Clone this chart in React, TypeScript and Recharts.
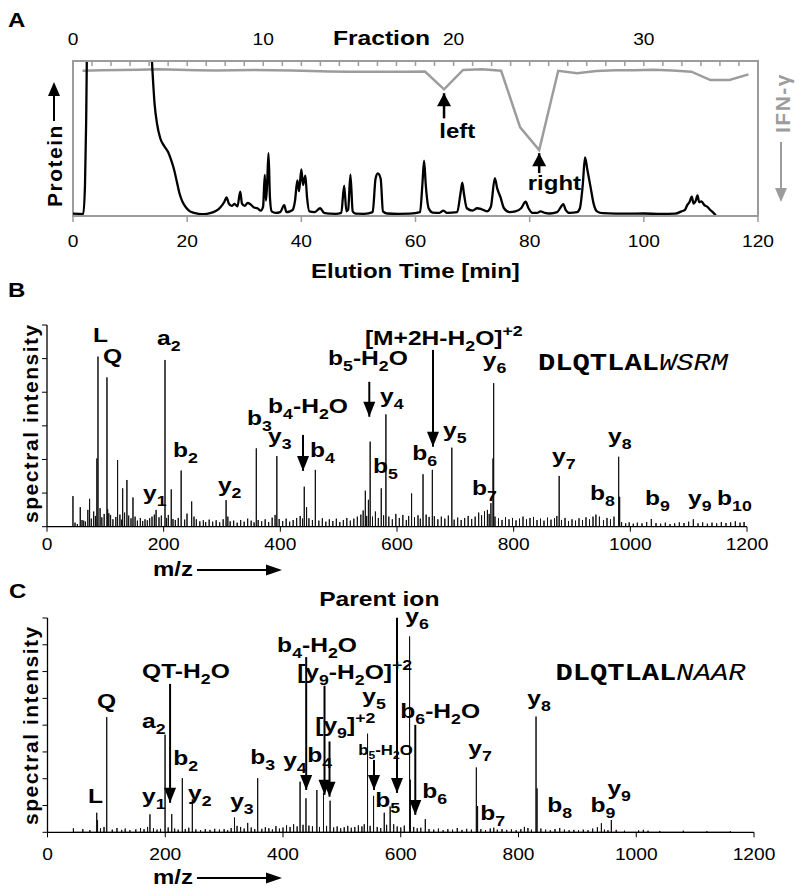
import React from "react";
import { ComposedChart, Line, XAxis, YAxis, ReferenceArea, ReferenceLine, ReferenceDot } from "recharts";

const SANS = "'Liberation Sans', Arial, sans-serif";
const MONO = "'Liberation Mono', 'Courier New', monospace";
const GRAY = "#9c9c9c";
const STRETCH = 1.2;

// ---------- panel A: elution profile ----------
const timeTicks = [0, 20, 40, 60, 80, 100, 120];
const fractionTicks = [0, 1, 2, 3, 4, 5, 6, 7, 8, 9, 10, 11, 12, 13, 14, 15, 16, 17, 18, 19, 20, 21, 22, 23, 24, 25, 26, 27, 28, 29, 30, 31, 32, 33, 34, 35, 36];
const fractionLabels = [0, 10, 20, 30];

// elution time [min], protein signal (100 = top of frame)
const proteinTrace: [number, number][] = [
  [0, 1.5], [1.8, 1.2], [2.1, 20], [2.3, 60], [2.5, 115], [13.6, 115], [13.9, 95], [14.3, 72], [14.7, 60],
  [15.3, 50], [16.0, 45], [16.7, 41], [17.2, 36], [17.7, 30], [18.2, 22], [18.7, 14], [19.2, 9], [19.8, 5.5],
  [20.5, 3], [21.2, 2], [22.0, 1.4], [23.0, 1.2], [24.0, 1.8], [25.0, 3.2], [25.8, 5.5], [26.5, 9], [26.9, 12],
  [27.3, 8], [27.8, 6.5], [28.3, 7.8], [28.8, 6.2], [29.3, 15.7], [29.6, 8], [30.1, 6.5], [30.6, 8.5], [31.1, 7.5],
  [31.7, 5.5], [32.3, 5], [32.9, 3.5], [33.3, 6], [33.6, 26.5], [33.8, 10], [34.0, 20], [34.25, 40.5], [34.5, 12],
  [34.8, 3], [35.5, 2], [36.3, 2.5], [37.0, 7], [37.4, 2.5], [38.0, 3], [38.5, 4], [38.9, 10], [39.3, 23],
  [39.6, 16], [40.0, 30], [40.3, 20], [40.7, 26], [41.0, 12], [41.4, 3], [42.3, 2.5], [43.3, 5], [44.0, 2],
  [45, 1.5], [46, 1.4], [47.0, 2], [47.5, 19.6], [47.9, 3], [48.2, 4], [48.6, 26.7], [49.0, 3], [49.5, 1.5],
  [51, 1.4], [52.5, 2.5], [53.0, 24], [53.4, 27.5], [53.9, 24], [54.3, 3], [55, 1.6], [57, 1.4], [59, 1.5],
  [60.8, 2.5], [61.2, 20], [61.5, 35.7], [61.8, 20], [62.3, 5], [63, 2.2], [64.2, 2], [64.9, 3.5], [65.5, 2],
  [67.3, 2.5], [67.9, 15], [68.2, 21.5], [68.5, 14], [69.0, 5], [70, 3.5], [70.8, 5], [71.5, 4.5], [72.5, 3],
  [73.2, 6], [73.9, 24.5], [74.3, 18], [74.9, 12], [75.5, 5], [76.5, 2.5], [77.5, 3], [78.5, 5], [79.3, 9.2],
  [79.8, 5], [80.5, 2], [81.3, 2], [81.9, 3], [82.7, 2], [83.5, 1.6], [84.8, 2.5], [85.5, 6], [85.9, 7.7],
  [86.3, 4], [87, 2], [88.3, 2.5], [88.8, 5], [89.3, 20], [89.7, 37.8], [90.1, 30], [90.7, 18], [91.2, 8],
  [91.8, 3], [92.8, 1.8], [95, 1.5], [100, 1.6], [103, 1.3], [105.5, 1.5], [106.6, 3], [107.2, 4], [107.6, 7],
  [108.0, 9], [108.4, 12.5], [108.7, 8], [109.1, 10], [109.4, 13.3], [109.7, 9], [110.1, 9.5], [110.6, 7],
  [111.1, 6], [111.6, 4], [112.2, 2], [112.6, 0.5],
];

// IFN-gamma per fraction (axis points downward)
const ifnFraction = [0.5, 1.5, 2.5, 3.5, 4.5, 5.5, 6.5, 7.5, 8.5, 9.5, 10.5, 11.5, 12.5, 13.5, 14.5, 15.5, 16.5, 17.5, 18.5, 19.5, 20.5, 21.5, 22.5, 23.5, 24.5, 25.5, 26.5, 27.5, 28.5, 29.5, 30.5, 31.5, 32.5, 33.5, 34.5, 35.5];
const ifnLevel = [6.3, 6.0, 5.8, 5.6, 5.4, 5.6, 5.9, 6.2, 6.0, 5.8, 6.0, 6.2, 6.4, 6.7, 6.9, 7.0, 7.0, 6.9, 6.8, 18.3, 5.8, 5.3, 6.3, 42.8, 57.4, 6.3, 7.9, 6.5, 6.0, 5.9, 5.6, 6.1, 6.9, 12.3, 12.3, 8.6];

const poolLabels = [
  { text: "left", fraction: 20.2, level: 49.7 },
  { text: "right", fraction: 25.3, level: 83.2 },
];
const poolArrows = [
  { fraction: 19.5, from: 37, to: 20.8 },
  { fraction: 24.5, from: 72.3, to: 59.5 },
];

// ---------- panel B / C: MS/MS spectra ----------
const mzTicks = [0, 200, 400, 600, 800, 1000, 1200];
const intensityTicksB = [0, 10, 20, 30, 40, 50, 60];
const intensityTicksC = [0, 10, 20, 30, 40, 50, 60, 70, 80];

const peaksB: [number, number][] = [
  [44.5, 9.1], [57, 5.8], [63, 1.8], [70, 5.0], [73, 8.3], [85.5, 20.3], [87.4, 50.6], [102.8, 44.4], [104, 5.2],
  [121, 19.8], [129.7, 11.4], [137, 13.9], [147.4, 8.7], [187, 5.0], [202.3, 49.6], [213, 11.1], [230, 16.7],
  [248, 7.5], [307, 7.9], [358.8, 23.3], [394, 21.0], [441, 11.9], [460, 16.9], [545.7, 10.7], [554, 25.3],
  [573, 11.4], [581, 33.4], [625, 9.9], [644.6, 15.6], [660.6, 16.9], [694, 23.5], [761, 7.0], [764.6, 20.3],
  [765.7, 42.7], [878, 15.1], [980, 20.8], [981.7, 8.9],
];
const noiseB: [number, number][] = [
  [48, 1.2], [52, 0.8], [60, 2.0], [66, 1.5], [76, 2.4], [80, 4.5], [83, 3.2], [91, 5.5], [94, 2.8], [98, 3.8],
  [106, 4.0], [109, 3.5], [113, 2.2], [118, 2.9], [125, 3.6], [128, 2.1], [133, 4.2], [140, 3.3], [144, 2.5],
  [151, 3.0], [155, 1.8], [160, 2.6], [164, 1.7], [168, 2.2], [172, 1.9], [176, 2.5], [180, 3.0], [184, 3.6],
  [192, 2.8], [196, 3.3], [205, 2.6], [208, 3.5], [216, 2.3], [220, 2.0], [225, 2.6], [236, 2.1], [240, 3.9],
  [252, 3.0], [256, 2.2], [262, 1.6], [268, 1.9], [272, 1.4], [278, 2.1], [284, 1.5], [290, 1.9], [296, 1.3],
  [302, 2.2], [310, 3.0], [314, 1.6], [320, 1.8], [326, 1.2], [332, 2.0], [338, 1.5], [344, 2.4], [350, 1.8],
  [355, 1.3], [362, 2.0], [368, 1.6], [374, 2.2], [380, 1.4], [386, 2.7], [391, 3.5], [398, 2.3], [404, 1.7],
  [410, 2.4], [416, 1.5], [422, 2.0], [428, 2.6], [434, 3.2], [438, 2.4], [445, 5.8], [449, 2.5], [455, 2.0],
  [466, 1.8], [472, 2.5], [478, 1.5], [484, 2.2], [490, 1.7], [496, 2.4], [502, 1.4], [508, 2.0], [514, 2.6],
  [520, 1.8], [526, 2.4], [532, 3.0], [538, 3.6], [542, 4.8], [548, 3.2], [551, 8.0], [558, 3.0], [563, 4.5],
  [568, 2.6], [577, 3.4], [586, 3.0], [592, 2.2], [598, 3.8], [604, 2.6], [610, 3.5], [616, 2.0], [620, 3.2],
  [630, 2.8], [636, 3.4], [640, 2.4], [650, 3.6], [655, 2.9], [664, 3.1], [670, 2.2], [676, 3.0], [682, 2.4],
  [688, 3.3], [698, 2.1], [704, 2.7], [710, 2.0], [716, 2.6], [722, 3.2], [728, 2.3], [734, 3.0], [740, 4.2],
  [745, 3.4], [750, 4.6], [755, 5.0], [758, 3.8], [768, 3.0], [774, 2.5], [780, 2.0], [786, 2.8], [792, 2.2],
  [798, 2.6], [804, 1.9], [810, 2.4], [816, 3.0], [822, 2.2], [828, 2.6], [834, 2.9], [840, 2.0], [846, 2.4],
  [852, 1.8], [858, 2.7], [864, 2.1], [870, 2.5], [874, 3.2], [882, 2.0], [888, 2.6], [894, 1.7], [900, 2.2],
  [906, 1.8], [912, 2.5], [918, 2.0], [924, 2.8], [930, 2.2], [936, 3.0], [941, 3.6], [947, 3.0], [954, 2.0],
  [960, 2.6], [966, 2.2], [972, 3.0], [985, 1.4], [992, 1.0], [998, 1.3], [1005, 0.9], [1012, 1.2], [1020, 1.0],
  [1028, 1.4], [1036, 2.3], [1044, 1.1], [1052, 0.9], [1060, 1.2], [1068, 0.8], [1076, 1.0], [1084, 1.3],
  [1092, 1.1], [1100, 1.5], [1108, 2.2], [1116, 1.0], [1124, 1.3], [1132, 0.9], [1140, 1.2], [1148, 1.0],
  [1156, 1.4], [1164, 1.1], [1172, 1.3], [1180, 1.6], [1188, 1.2], [1195, 1.4],
];

const ionsB = [
  { text: "L", mz: 78.9, level: 54.9 },
  { text: "Q", mz: 96, level: 48.7 },
  { text: "a_{2}", mz: 188.6, level: 54.1 },
  { text: "b_{2}", mz: 216, level: 20.7 },
  { text: "y_{1}", mz: 164.6, level: 7.9 },
  { text: "y_{2}", mz: 293, level: 10.3 },
  { text: "b_{3}", mz: 343, level: 30.3 },
  { text: "b_{4}-H_{2}O", mz: 379, level: 33.8 },
  { text: "y_{3}", mz: 379, level: 24.9 },
  { text: "b_{4}", mz: 451, level: 20.7 },
  { text: "b_{5}-H_{2}O", mz: 481.7, level: 48.1 },
  { text: "y_{4}", mz: 571, level: 36.8 },
  { text: "b_{5}", mz: 559, level: 16.0 },
  { text: "[M+2H-H_{2}O]^{+2}", mz: 545, level: 54.1 },
  { text: "y_{6}", mz: 747, level: 47.5 },
  { text: "b_{6}", mz: 626, level: 19.8 },
  { text: "y_{5}", mz: 679, level: 26.7 },
  { text: "b_{7}", mz: 728.6, level: 9.4 },
  { text: "y_{7}", mz: 865.7, level: 18.9 },
  { text: "y_{8}", mz: 961.7, level: 24.9 },
  { text: "b_{8}", mz: 930.9, level: 7.9 },
  { text: "b_{9}", mz: 1025, level: 6.5 },
  { text: "y_{9}", mz: 1099, level: 6.5 },
  { text: "b_{10}", mz: 1148.6, level: 6.5 },
];
const arrowsB = [
  { mz: 438.9, from: 27.3, to: 16.6 },
  { mz: 552.5, from: 43.1, to: 32.7 },
  { mz: 661.7, from: 52.6, to: 23.8 },
];
const peptideB = { fixed: "DLQTLAL", variable: "WSRM", mz: 841.7, level: 46.6 };

const peaksC: [number, number][] = [
  [44, 1.5], [83.6, 7.3], [85, 4.5], [100.6, 43.0], [174, 6.7], [199.7, 36.4], [211, 6.8], [229, 20.2],
  [246, 12.3], [317.6, 5.5], [357, 20.2], [429, 18.9], [439, 12.7], [457.5, 15.8], [468.8, 14.6], [480, 11.8],
  [543.6, 36.8], [553.8, 13.6], [572, 7.3], [582, 9.6], [615, 73.1], [616.5, 19.6], [641.7, 4.9], [728.4, 24.2],
  [730.5, 9.8], [829.8, 43.2], [831.5, 16.4], [940.8, 3.4], [957.7, 4.6],
];
const noiseC: [number, number][] = [
  [60, 1.2], [72, 0.8], [90, 1.5], [96, 2.0], [110, 1.0], [118, 1.6], [126, 0.9], [132, 1.4], [140, 0.8],
  [150, 1.1], [158, 1.6], [164, 1.2], [170, 2.0], [180, 1.5], [186, 1.0], [192, 1.3], [205, 1.8], [216, 1.4],
  [222, 1.0], [234, 1.2], [240, 1.7], [252, 1.1], [260, 0.8], [268, 1.2], [276, 0.9], [284, 1.3], [292, 1.0],
  [300, 1.2], [306, 0.8], [312, 1.6], [322, 2.4], [328, 2.0], [334, 1.4], [340, 3.5], [346, 1.8], [352, 1.2],
  [364, 1.3], [370, 1.9], [376, 1.5], [382, 1.1], [388, 2.3], [394, 1.4], [400, 1.8], [406, 2.6], [412, 2.0],
  [418, 3.0], [424, 2.2], [434, 2.8], [444, 2.5], [450, 2.2], [462, 2.0], [474, 2.4], [486, 1.8], [492, 2.2],
  [498, 1.5], [504, 1.9], [510, 2.4], [516, 1.7], [522, 2.0], [528, 2.6], [534, 2.2], [538, 3.0], [548, 2.4],
  [560, 2.0], [566, 1.6], [576, 2.8], [588, 3.0], [594, 2.2], [600, 1.8], [606, 2.5], [622, 2.0], [628, 1.5],
  [634, 1.7], [648, 1.2], [656, 1.0], [664, 1.4], [672, 0.8], [680, 1.2], [688, 1.0], [696, 1.6], [704, 0.9],
  [712, 1.3], [720, 1.0], [736, 1.2], [744, 0.8], [752, 1.4], [758, 1.7], [764, 1.0], [772, 1.2], [780, 0.9],
  [788, 1.1], [796, 0.8], [804, 1.2], [810, 2.0], [816, 1.6], [822, 1.0], [838, 1.4], [846, 1.0], [854, 0.8],
  [862, 1.2], [870, 1.6], [878, 1.0], [886, 0.8], [894, 0.9], [902, 0.7], [910, 1.0], [918, 0.8], [926, 1.4],
  [934, 1.9], [946, 1.0], [952, 0.8], [966, 0.9], [980, 0.6], [1004, 0.7], [1012, 0.9], [1020, 0.6], [1040, 0.5],
  [1080, 0.6], [1120, 0.4], [1160, 0.4],
];

const ionsC = [
  { text: "Parent ion", mz: 461.5, level: 84.3 },
  { text: "y_{6}", mz: 607.7, level: 78.2 },
  { text: "b_{4}-H_{2}O", mz: 390, level: 67.4 },
  { text: "QT-H_{2}O", mz: 160.6, level: 57.7 },
  { text: "[y_{9}-H_{2}O]^{+2}", mz: 424, level: 57.3 },
  { text: "Q", mz: 84, level: 46.5 },
  { text: "a_{2}", mz: 160.6, level: 39 },
  { text: "y_{5}", mz: 534.6, level: 48.3 },
  { text: "b_{6}-H_{2}O", mz: 599.2, level: 42.7 },
  { text: "[y_{9}]^{+2}", mz: 454.7, level: 37.5 },
  { text: "b_{2}", mz: 213.4, level: 25.2 },
  { text: "b_{3}", mz: 344.2, level: 25.5 },
  { text: "y_{4}", mz: 400.3, level: 24.4 },
  { text: "b_{4}", mz: 441.1, level: 26.3 },
  { text: "b_{5}-H_{2}O", mz: 527.8, level: 28.9, small: true },
  { text: "y_{7}", mz: 714.8, level: 28.9 },
  { text: "y_{8}", mz: 815, level: 47.6 },
  { text: "L", mz: 68.8, level: 11 },
  { text: "y_{1}", mz: 160.6, level: 11 },
  { text: "y_{2}", mz: 238.8, level: 12.1 },
  { text: "y_{3}", mz: 310.2, level: 9.1 },
  { text: "b_{5}", mz: 556.7, level: 9.5 },
  { text: "b_{6}", mz: 636.6, level: 12.8 },
  { text: "b_{7}", mz: 735.2, level: 4.6 },
  { text: "b_{8}", mz: 849, level: 7.5 },
  { text: "b_{9}", mz: 922.3, level: 7.5 },
  { text: "y_{9}", mz: 951, level: 13.9 },
];
const arrowsC = [
  { mz: 593.6, from: 80.1, to: 14.7 },
  { mz: 439.4, from: 65.4, to: 15.8 },
  { mz: 208.2, from: 55.4, to: 11 },
  { mz: 470.5, from: 54.7, to: 14 },
  { mz: 479, from: 33.9, to: 13.3 },
  { mz: 624.7, from: 40.1, to: 6.5 },
  { mz: 554.6, from: 27, to: 15.8 },
];
const peptideC = { fixed: "DLQTLAL", variable: "NAAR", mz: 862.7, level: 56.9 };

// ---------- helpers ----------
function richSpans(s: string, size: number) {
  const parts: { t: string; k: string }[] = [];
  const re = /([_^])\{([^}]*)\}/g;
  let last = 0;
  let m: RegExpExecArray | null;
  while ((m = re.exec(s))) {
    if (m.index > last) parts.push({ t: s.slice(last, m.index), k: "n" });
    parts.push({ t: m[2], k: m[1] === "_" ? "sub" : "sup" });
    last = re.lastIndex;
  }
  if (last < s.length) parts.push({ t: s.slice(last), k: "n" });
  let cur = 0;
  return parts.map((p, i) => {
    const target = p.k === "sub" ? size * 0.3 : p.k === "sup" ? -size * 0.42 : 0;
    const dy = target - cur;
    cur = target;
    return (
      <tspan key={i} dy={dy} fontSize={p.k === "n" ? size : size * 0.72}>
        {p.t}
      </tspan>
    );
  });
}

function SText({ x, y, size, anchor = "start", fill = "#000", weight = "bold", children }: any) {
  return (
    <text
      transform={`translate(${x},${y}) scale(${STRETCH},1)`}
      fontFamily={SANS}
      fontWeight={weight}
      fontSize={size}
      textAnchor={anchor}
      fill={fill}
    >
      {children}
    </text>
  );
}

const tickText = (dy: number, only?: number[]) => (p: any) => {
  const v = p.payload.value;
  if (only && !only.includes(v)) return <g />;
  return (
    <SText x={p.x} y={p.y + dy} size={16} anchor="middle" weight="normal">
      {v}
    </SText>
  );
};

const noTick = () => <g />;

function buildSticks(peaks: [number, number][], noise: [number, number][]) {
  const all = [...peaks, ...noise].sort((a, b) => a[0] - b[0]);
  const out: { mz: number; v: number }[] = [];
  for (const [mz, v] of all) out.push({ mz, v: 0 }, { mz, v }, { mz, v: 0 });
  return out;
}

function downHead(p: any) {
  return <polygon points={`${p.cx},${p.cy} ${p.cx - 6},${p.cy - 15} ${p.cx + 6},${p.cy - 15}`} fill="#000" />;
}
function upHead(p: any) {
  return <polygon points={`${p.cx},${p.cy} ${p.cx - 7},${p.cy + 13} ${p.cx + 7},${p.cy + 13}`} fill="#000" />;
}

// ---------- panels ----------
function ElutionPanel() {
  const proteinData = proteinTrace.map(([t, v]) => ({ t, v }));
  const ifnData = ifnFraction.map((f, i) => ({ f, ifn: ifnLevel[i] }));
  return (
    <ComposedChart width={800} height={290} margin={{ top: 31, right: 42, bottom: 44, left: 73 }}>
      <XAxis
        xAxisId="time"
        dataKey="t"
        type="number"
        domain={[0, 120]}
        ticks={timeTicks}
        interval={0}
        allowDataOverflow
        height={30}
        tickSize={6}
        tickMargin={0}
        axisLine={{ stroke: GRAY, strokeWidth: 2 }}
        tickLine={{ stroke: GRAY, strokeWidth: 1.5 }}
        tick={tickText(25)}
      />
      <XAxis
        xAxisId="frac"
        dataKey="f"
        type="number"
        orientation="top"
        domain={[0, 36]}
        ticks={fractionTicks}
        interval={0}
        allowDataOverflow
        height={30}
        tickSize={-5}
        tickMargin={0}
        axisLine={{ stroke: GRAY, strokeWidth: 2 }}
        tickLine={{ stroke: GRAY, strokeWidth: 1.5 }}
        tick={tickText(-21, fractionLabels)}
      />
      <YAxis yAxisId="prot" type="number" domain={[0, 100]} allowDataOverflow hide />
      <YAxis yAxisId="ifn" orientation="right" type="number" domain={[0, 100]} reversed allowDataOverflow hide />
      <ReferenceArea xAxisId="time" yAxisId="prot" x1={0} x2={120} y1={0} y2={100} fill="none" stroke={GRAY} strokeWidth={2} />
      <Line
        xAxisId="frac"
        yAxisId="ifn"
        data={ifnData}
        dataKey="ifn"
        type="linear"
        stroke={GRAY}
        strokeWidth={2.5}
        dot={false}
        isAnimationActive={false}
      />
      <Line
        xAxisId="time"
        yAxisId="prot"
        data={proteinData}
        dataKey="v"
        type="monotone"
        stroke="#000"
        strokeWidth={2.3}
        dot={false}
        isAnimationActive={false}
      />
      {poolArrows.map((a, i) => (
        <ReferenceLine
          key={"pa" + i}
          xAxisId="frac"
          yAxisId="ifn"
          segment={[{ x: a.fraction, y: a.from }, { x: a.fraction, y: a.to }]}
          stroke="#000"
          strokeWidth={2.5}
          ifOverflow="visible"
        />
      ))}
      {poolArrows.map((a, i) => (
        <ReferenceDot key={"ph" + i} xAxisId="frac" yAxisId="ifn" x={a.fraction} y={a.to} ifOverflow="visible" shape={upHead} />
      ))}
      {poolLabels.map((l, i) => (
        <ReferenceDot
          key={"pl" + i}
          xAxisId="frac"
          yAxisId="ifn"
          x={l.fraction}
          y={l.level}
          ifOverflow="visible"
          shape={(p: any) => (
            <SText x={p.cx} y={p.cy} size={20} anchor="middle">
              {l.text}
            </SText>
          )}
        />
      ))}
    </ComposedChart>
  );
}

function SpectrumPanel({ height, margin, yMax, yTicks, peaks, noise, ions, arrows, peptide, tickDy }: any) {
  const sticks = buildSticks(peaks, noise);
  return (
    <ComposedChart width={800} height={height} data={sticks} margin={margin}>
      <XAxis
        dataKey="mz"
        type="number"
        domain={[0, 1200]}
        ticks={mzTicks}
        interval={0}
        allowDataOverflow
        height={30}
        tickSize={5}
        tickMargin={0}
        axisLine={{ stroke: "#000", strokeWidth: 1.3 }}
        tickLine={{ stroke: "#000", strokeWidth: 1 }}
        tick={tickText(tickDy)}
      />
      <YAxis
        type="number"
        domain={[0, yMax]}
        ticks={yTicks}
        interval={0}
        allowDataOverflow
        width={10}
        tickSize={5}
        axisLine={{ stroke: "#000", strokeWidth: 1.3 }}
        tickLine={{ stroke: "#000", strokeWidth: 1 }}
        tick={noTick}
      />
      <Line dataKey="v" type="linear" stroke="#111" strokeWidth={1} dot={false} isAnimationActive={false} />
      {arrows.map((a: any, i: number) => (
        <ReferenceLine
          key={"as" + i}
          segment={[{ x: a.mz, y: a.from }, { x: a.mz, y: a.to }]}
          stroke="#000"
          strokeWidth={2}
          ifOverflow="visible"
        />
      ))}
      {arrows.map((a: any, i: number) => (
        <ReferenceDot key={"ah" + i} x={a.mz} y={a.to} ifOverflow="visible" shape={downHead} />
      ))}
      {ions.map((l: any, i: number) => (
        <ReferenceDot
          key={"il" + i}
          x={l.mz}
          y={l.level}
          ifOverflow="visible"
          shape={(p: any) => (
            <SText x={p.cx} y={p.cy} size={l.small ? 14 : 20.5}>
              {richSpans(l.text, l.small ? 14 : 20.5)}
            </SText>
          )}
        />
      ))}
      <ReferenceDot
        x={peptide.mz}
        y={peptide.level}
        ifOverflow="visible"
        shape={(p: any) => (
          <text transform={`translate(${p.cx},${p.cy}) scale(${STRETCH},1)`} fontFamily={MONO} fontSize={24} fill="#000">
            <tspan fontWeight="bold">{peptide.fixed}</tspan>
            <tspan fontStyle="italic">{peptide.variable}</tspan>
          </text>
        )}
      />
    </ComposedChart>
  );
}

function Overlay() {
  return (
    <svg width={800} height={894} style={{ position: "absolute", left: 0, top: 0, pointerEvents: "none" }}>
      <SText x={8} y={27} size={20}>A</SText>
      <SText x={8} y={297} size={20}>B</SText>
      <SText x={9} y={598} size={20}>C</SText>

      <SText x={333} y={45} size={20.5}>Fraction</SText>
      <SText x={311} y={278} size={20}>Elution Time [min]</SText>

      <text transform="translate(62,207) rotate(-90)" fontFamily={SANS} fontWeight="bold" fontSize={21} letterSpacing={1.5} fill="#000">
        Protein
      </text>
      <line x1={54} y1={121} x2={54} y2={94} stroke="#000" strokeWidth={2} />
      <polygon points="54,82 48,96 60,96" fill="#000" />

      <text transform="translate(790,133) rotate(-90)" fontFamily={SANS} fontWeight="bold" fontSize={21} letterSpacing={1.5} fill={GRAY}>
        IFN-γ
      </text>
      <line x1={781} y1={142} x2={781} y2={190} stroke={GRAY} strokeWidth={2} />
      <polygon points="781,202 775,188 787,188" fill={GRAY} />

      <text transform="translate(38,523) rotate(-90)" fontFamily={SANS} fontWeight="bold" fontSize={21} letterSpacing={1.5} fill="#000">
        spectral intensity
      </text>
      <text transform="translate(38,825) rotate(-90)" fontFamily={SANS} fontWeight="bold" fontSize={21} letterSpacing={1.5} fill="#000">
        spectral intensity
      </text>

      <SText x={153} y={576} size={20}>m/z</SText>
      <line x1={197} y1={570} x2={268} y2={570} stroke="#000" strokeWidth={2} />
      <polygon points="282,570 266,564.5 266,575.5" fill="#000" />

      <SText x={153} y={884} size={20}>m/z</SText>
      <line x1={197} y1={878} x2={268} y2={878} stroke="#000" strokeWidth={2} />
      <polygon points="282,878 266,872.5 266,883.5" fill="#000" />
    </svg>
  );
}

export default function App() {
  return (
    <div style={{ position: "absolute", left: 0, top: 0, width: 800, height: 894, background: "#fff", fontFamily: SANS }}>
      <div style={{ position: "absolute", left: 0, top: 0 }}>
        <ElutionPanel />
      </div>
      <div style={{ position: "absolute", left: 0, top: 300 }}>
        <SpectrumPanel
          height={290}
          margin={{ top: 25, right: 53, bottom: 33.3, left: 37 }}
          yMax={60}
          yTicks={intensityTicksB}
          peaks={peaksB}
          noise={noiseB}
          ions={ionsB}
          arrows={arrowsB}
          peptide={peptideB}
          tickDy={18}
        />
      </div>
      <div style={{ position: "absolute", left: 0, top: 575 }}>
        <SpectrumPanel
          height={319}
          margin={{ top: 43, right: 46, bottom: 31.7, left: 37.5 }}
          yMax={80}
          yTicks={intensityTicksC}
          peaks={peaksC}
          noise={noiseC}
          ions={ionsC}
          arrows={arrowsC}
          peptide={peptideC}
          tickDy={23}
        />
      </div>
      <Overlay />
    </div>
  );
}
